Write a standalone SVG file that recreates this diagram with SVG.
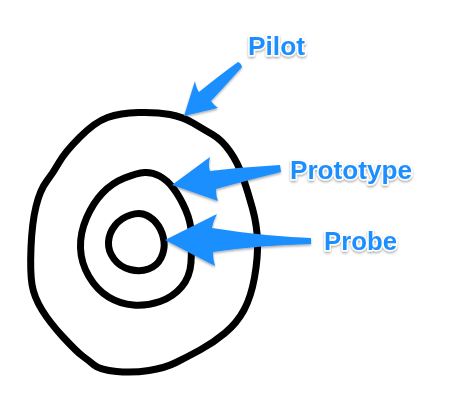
<svg xmlns="http://www.w3.org/2000/svg" width="460" height="407" viewBox="0 0 460 407">
<style>
.ring{fill:none;stroke:#000;stroke-width:7;stroke-linejoin:round}
.arr{fill:#1E8FFF;filter:url(#sh)}
.lbl{font-family:"Liberation Sans",Arial,sans-serif;font-weight:bold;font-size:26px;fill:#1E8FFF;stroke:#fff;stroke-width:3;paint-order:stroke;stroke-linejoin:round;filter:url(#sh)}
</style>
<defs>
<filter id="sh" x="-20%" y="-20%" width="140%" height="150%">
<feDropShadow dx="0" dy="1.5" stdDeviation="1.2" flood-color="#000" flood-opacity="0.35"/>
</filter>
</defs>
<rect width="460" height="407" fill="#fff"/>
<g id="pilot-ring">
<path class="ring" d="M138.5,112.5 Q157,112 170,114.5 Q183,117 193,123 Q203,129 212.5,134.5 Q222,140 230,151.5 Q238,163 243,177.5 Q248,192 252.5,208.5 Q257,225 257.5,241.5 Q258,258 254.5,277.5 Q251,297 244,310 Q237,323 225,333 Q213,343 200,350 Q187,357 176,362.5 Q165,368 149,370.5 Q133,373 116.5,371.5 Q100,370 94,365 Q88,360 82.5,356 Q77,352 63.5,337.5 Q50,323 42,310 Q34,297 32,284.5 Q30,272 31,247.5 Q32,223 36,206.5 Q40,190 46.5,181.5 Q53,173 59,162.5 Q65,152 80,137 Q95,122 107.5,117.5 Q120,113 138.5,112.5 Z"/>
</g>
<g id="prototype-ring">
<path class="ring" d="M144.5,172.5 Q152,172 159.5,176 Q167,180 173.5,188.5 Q180,197 185.5,209.5 Q191,222 191.5,235 Q192,248 191,262.5 Q190,277 181.5,287 Q173,297 160,301.5 Q147,306 133.5,305 Q120,304 108.5,297 Q97,290 89,276.5 Q81,263 80.5,248 Q80,233 86.5,218 Q93,203 102.5,193 Q112,183 124.5,178 Q137,173 144.5,172.5 Z"/>
</g>
<g id="probe-ring">
<path class="ring" d="M147,215.5 Q154,219 158.5,226 Q163,233 164,241.5 Q165,250 161,258 Q157,266 148.5,269 Q140,272 130,269.5 Q120,267 114,259 Q108,251 108.5,242 Q109,233 115,225.5 Q121,218 130.5,215 Q140,212 147,215.5 Z"/>
</g>
<g id="connectors">
<path class="arr" d="M184,116 L195,81 Q196,88 199,92 Q220,75 238,62 Q241,63 242,67 Q226,85 211,101 Q214,105 218,108 Z"/>
<path class="arr" d="M172,185 L210,157 Q208,165 210,171 Q245,167 280,165 L281,172 Q248,180 216,189 Q216,196 218,201 Z"/>
<path class="arr" d="M165,240 L217,214 Q213,221 212,228 Q262,236 311,238 L311,244 Q262,245 213,252 Q213,259 215,266 Z"/>
</g>
<g id="labels">
<text class="lbl" x="248" y="55" textLength="57" lengthAdjust="spacingAndGlyphs">Pilot</text>
<text class="lbl" x="290" y="179" textLength="122" lengthAdjust="spacingAndGlyphs">Prototype</text>
<text class="lbl" x="324" y="250" textLength="73" lengthAdjust="spacingAndGlyphs">Probe</text>
</g>
</svg>
